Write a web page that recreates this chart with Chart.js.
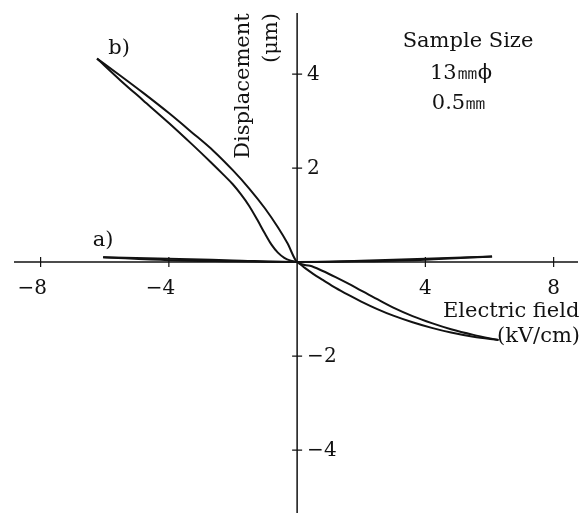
<!DOCTYPE html>
<html>
<head>
<meta charset="utf-8">
<script src="https://cdn.jsdelivr.net/npm/chart.js@4"></script>
<style>
  html, body { margin: 0; padding: 0; background: #fff; }
  #wrap { width: 584px; height: 513px; }
</style>
</head>
<body>
<div id="wrap"><canvas id="c" width="584" height="513"></canvas></div>
<script>
// ---- tick labels ----
const xTickValues = [-8, -4, 4, 8];
const yTickValues = [4, 2, -2, -4];

// ---- curve b) : hysteresis loop, two branches (E in kV/cm, D in µm) ----
const bUpperE = [-6.24, -5.5, -4.8, -4.0, -3.3, -2.6, -2.0, -1.5, -1.0, -0.6, -0.3, 0, 0.4, 0.8, 1.2, 1.6, 2.0, 2.5, 3.0, 3.6, 4.2, 4.8, 5.5, 6.28];
const bUpperD = [4.33, 3.96, 3.6, 3.17, 2.77, 2.36, 1.95, 1.57, 1.14, 0.74, 0.4, 0, -0.08, -0.19, -0.32, -0.46, -0.61, -0.79, -0.97, -1.15, -1.3, -1.43, -1.55, -1.66];
const bLowerE = [-6.24, -5.5, -4.8, -4.0, -3.3, -2.7, -2.3, -2.0, -1.75, -1.5, -1.25, -1.0, -0.8, -0.6, -0.4, -0.2, 0, 0.25, 0.5, 0.8, 1.2, 1.6, 2.0, 2.5, 3.0, 3.6, 4.2, 4.8, 5.5, 6.28];
const bLowerD = [4.33, 3.86, 3.44, 2.96, 2.52, 2.13, 1.86, 1.65, 1.44, 1.2, 0.91, 0.6, 0.37, 0.2, 0.09, 0.03, 0, -0.13, -0.25, -0.38, -0.55, -0.7, -0.84, -1.0, -1.14, -1.28, -1.4, -1.5, -1.59, -1.66];

// ---- curve a) : thin loop ----
const aUpperE = [-6.05, -4, -2, 0, 2, 4, 6.08];
const aUpperD = [0.1, 0.07, 0.035, 0, 0.03, 0.07, 0.12];
const aLowerE = [-6.05, -4, -2, -1, 0, 1, 2, 4, 6.08];
const aLowerD = [0.1, 0.04, 0.015, 0.005, 0, 0.005, 0.015, 0.05, 0.12];

// ---- texts ----
const xAxisTitle = ['Electric field', '(kV/cm)'];
const yAxisTitle = ['Displacement', '(\u03bcm)'];
const noteLines = ['Sample Size', '13\u339c\u03d5', '0.5\u339c'];
const curveLabels = ['a)', 'b)'];

function pts(xs, ys) { return xs.map((x, i) => ({ x: x, y: ys[i] })); }

const INK = '#121212';
const SERIF = '"DejaVu Serif", "Liberation Serif", serif';

const lineStyle = {
  showLine: true, pointRadius: 0, borderColor: INK, borderWidth: 2,
  cubicInterpolationMode: 'monotone', fill: false
};

const axesPlugin = {
  id: 'crossAxes',
  beforeDatasetsDraw(chart) {
    const { ctx, chartArea: ca, scales: { x, y } } = chart;
    const x0 = x.getPixelForValue(0), y0 = y.getPixelForValue(0);
    ctx.save();
    ctx.strokeStyle = INK;
    ctx.lineWidth = 1.5;
    ctx.beginPath();
    ctx.moveTo(ca.left, y0); ctx.lineTo(ca.right, y0);
    ctx.moveTo(x0, ca.top); ctx.lineTo(x0, ca.bottom);
    ctx.stroke();
    // tick marks crossing the axes
    ctx.lineWidth = 1.2;
    ctx.beginPath();
    xTickValues.forEach(v => { const p = x.getPixelForValue(v); ctx.moveTo(p, y0 - 5); ctx.lineTo(p, y0 + 5); });
    yTickValues.forEach(v => { const p = y.getPixelForValue(v); ctx.moveTo(x0 - 5, p); ctx.lineTo(x0 + 5, p); });
    ctx.stroke();
    // tick labels
    ctx.fillStyle = INK;
    ctx.font = '20px ' + SERIF;
    ctx.textBaseline = 'middle';
    xTickValues.forEach(v => {
      const p = x.getPixelForValue(v);
      const digits = String(Math.abs(v));
      const txt = (v < 0 ? '\u2212' : '') + digits;
      const dw = ctx.measureText(digits).width;
      ctx.textAlign = 'right';
      ctx.fillText(txt, p + dw / 2, y0 + 27);
    });
    yTickValues.forEach(v => {
      const p = y.getPixelForValue(v);
      const txt = (v < 0 ? '\u2212' : '') + String(Math.abs(v));
      ctx.textAlign = 'left';
      ctx.fillText(txt, x0 + 10, p + 1);
    });
    ctx.restore();
  },
  afterDatasetsDraw(chart) {
    const { ctx } = chart;
    ctx.save();
    ctx.fillStyle = INK;
    ctx.font = '21px ' + SERIF;
    ctx.textBaseline = 'middle';
    // axis titles
    ctx.textAlign = 'left';
    ctx.fillText(xAxisTitle[0], 443, 312);
    ctx.textAlign = 'right';
    ctx.fillText(xAxisTitle[1], 580, 337);
    ctx.save();
    ctx.translate(244, 86); ctx.rotate(-Math.PI / 2);
    ctx.textAlign = 'center';
    ctx.fillText(yAxisTitle[0], 0, 0);
    ctx.restore();
    ctx.save();
    ctx.translate(272, 38); ctx.rotate(-Math.PI / 2);
    ctx.textAlign = 'center';
    ctx.fillText(yAxisTitle[1], 0, 0);
    ctx.restore();
    // sample note
    ctx.textAlign = 'center';
    ctx.fillText(noteLines[0], 468, 42);
    ctx.fillText(noteLines[1], 461, 74);
    ctx.fillText(noteLines[2], 459, 104);
    // curve labels
    ctx.fillText(curveLabels[0], 103, 241);
    ctx.fillText(curveLabels[1], 119, 49);
    ctx.restore();
  }
};

new Chart(document.getElementById('c'), {
  type: 'scatter',
  data: {
    datasets: [
      Object.assign({ label: 'b) up', data: pts(bUpperE, bUpperD) }, lineStyle),
      Object.assign({ label: 'b) down', data: pts(bLowerE, bLowerD) }, lineStyle),
      Object.assign({ label: 'a) up', data: pts(aUpperE, aUpperD) }, lineStyle),
      Object.assign({ label: 'a) down', data: pts(aLowerE, aLowerD) }, lineStyle)
    ]
  },
  options: {
    responsive: false,
    animation: false,
    layout: { padding: { left: 14, right: 6, top: 13, bottom: 0 } },
    plugins: { legend: { display: false }, tooltip: { enabled: false } },
    scales: {
      x: { type: 'linear', min: -8.83, max: 8.76, display: false },
      y: { type: 'linear', min: -5.34, max: 5.30, display: false }
    }
  },
  plugins: [axesPlugin]
});
</script>
</body>
</html>
